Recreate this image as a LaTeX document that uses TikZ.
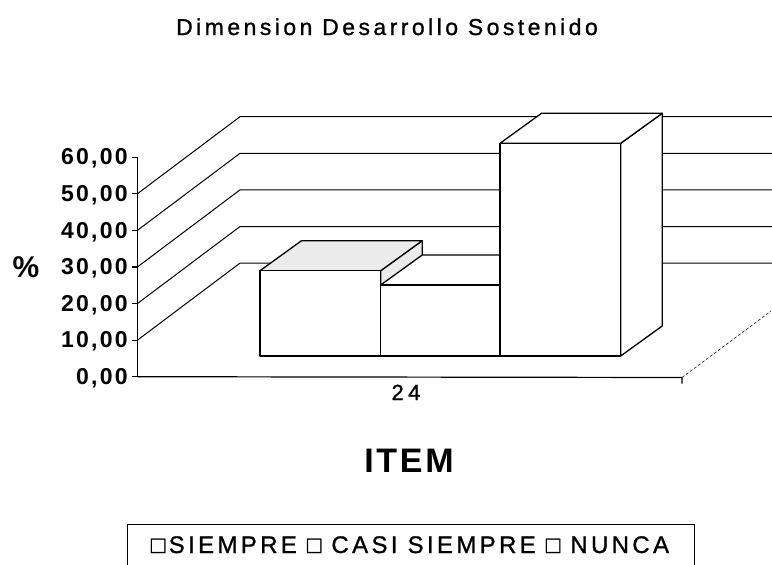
\documentclass[tikz,border=0pt]{standalone}
\usepackage{fontspec}
\usetikzlibrary{calc}
\setmainfont{Liberation Sans}
\newfontfamily\titlefont[LetterSpace=15,FakeBold=1]{Liberation Sans}
\newfontfamily\labfont[LetterSpace=10]{Liberation Sans}
\newfontfamily\catfont[LetterSpace=20,FakeBold=1]{Liberation Sans}
\newfontfamily\itemfont[LetterSpace=8]{Liberation Sans}
\newfontfamily\legfont[LetterSpace=14,FakeBold=1]{Liberation Sans}
\begin{document}
\begin{tikzpicture}[x=1pt,y=-1pt,
  gridline/.style={line width=1pt,line cap=round},
  axisline/.style={line width=1.2pt},
  barface/.style={draw=black,line width=1.3pt,fill=white,line join=round},
  speckface/.style={draw=black,line width=1.3pt,fill=black!8,line join=round},
  ticklab/.style={anchor=base east,inner sep=0pt,font=\labfont\bfseries\fontsize{23}{25}\selectfont}]
\useasboundingbox[fill=white] (0,0) rectangle (772,565);

% axis and tick coordinates
\foreach \v/\yy in {0/376.7,10/340.1,20/303.5,30/266.9,40/230.3,50/193.7,60/157.1}{
  \coordinate (t\v) at (137.5,\yy);
  \coordinate (k\v) at (131.5,\yy);
  \node[ticklab] (lab\v) at (128,\yy+7.8) {\v,00};
  \draw[axisline] (k\v) -- (t\v);
}
% back wall gridlines
\foreach \v in {10,20,30,40,50}{
  \coordinate (b\v) at ($(t\v)+(102.5,-77)$);
  \coordinate (r\v) at ($(b\v)+(532,0)$);
  \draw[gridline] (t\v) -- (b\v) -- (r\v);
}
\draw[axisline] (t60) -- (t0);
% floor
\coordinate (f1) at (682,377.5);
\coordinate (f2) at (682,383.5);
\coordinate (f3) at (771,311);
\draw[axisline] (t0) -- (f1) -- (f2);
\draw[line width=0.8pt,densely dashed,black!75] (f1) -- (f3);

% bar 1 (SIEMPRE)
\coordinate (a1) at (260,270.7);  \coordinate (a2) at (380.7,270.7);
\coordinate (a3) at (380.7,356);  \coordinate (a4) at (260,356);
\draw[speckface] (a2) -- ++(41.5,-30) -- ++(0,85.3) -- (a3) -- cycle;
\draw[speckface] (a1) -- ++(41.5,-30) -- ++(120.7,0) -- (a2) -- cycle;
\draw[barface] (a1) rectangle (a3);
% bar 2 (CASI SIEMPRE)
\coordinate (c1) at (380.7,285);  \coordinate (c3) at (500,356);
\coordinate (c2) at (500,285);
\draw[barface] (c1) -- ++(41.5,-30) -- ++(119.3,0) -- (c2) -- cycle;
\draw[barface] (c1) rectangle (c3);
% bar 3 (NUNCA)
\coordinate (d1) at (500,143.3);  \coordinate (d2) at (620.7,143.3);
\coordinate (d3) at (620.7,356);
\draw[barface] (d2) -- ++(41.5,-30) -- ++(0,212.7) -- (d3) -- cycle;
\draw[barface] (d1) -- ++(41.5,-30) -- ++(120.7,0) -- (d2) -- cycle;
\draw[barface] (d1) rectangle (d3);

% texts
\node[anchor=base,inner sep=0pt] (title) at (387,35) {\titlefont\fontsize{23}{25}\selectfont Dimension Desarrollo Sostenido};
\node[anchor=base,inner sep=0pt] (pct) at (26,277) {\bfseries\fontsize{30}{32}\selectfont \%};
\node[anchor=base,inner sep=0pt] (cat) at (406,400) {\catfont\fontsize{22}{24}\selectfont 24};
\node[anchor=base,inner sep=0pt] (item) at (409,472.5) {\itemfont\bfseries\fontsize{34}{36}\selectfont ITEM};
% legend
\coordinate (l1) at (127,566); \coordinate (l2) at (127,524);
\coordinate (l3) at (694,524); \coordinate (l4) at (694,566);
\draw[line width=1pt] (l1) -- (l2) -- (l3) -- (l4);
\node[anchor=base,inner sep=0pt] (leg) at (410,553) {\legfont\fontsize{24}{26}\selectfont □SIEMPRE □ CASI SIEMPRE □ NUNCA};
\end{tikzpicture}
\end{document}
